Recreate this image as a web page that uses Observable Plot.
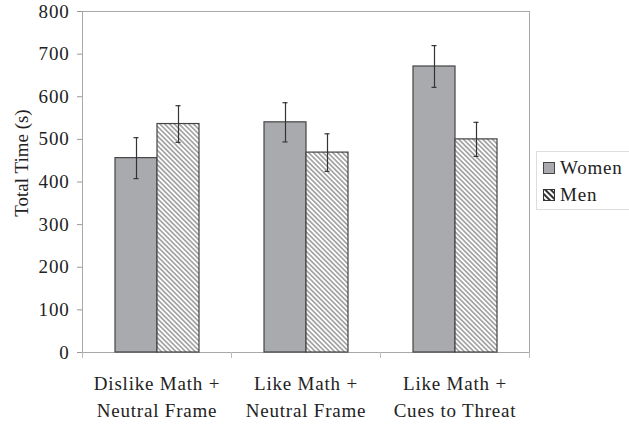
<!DOCTYPE html>
<html>
<head>
<meta charset="utf-8">
<script src="https://cdn.jsdelivr.net/npm/d3@7"></script>
<script src="https://cdn.jsdelivr.net/npm/@observablehq/plot@0.6"></script>
<style>
  html, body { margin: 0; padding: 0; background: #fff; }
  #chart { position: relative; width: 629px; height: 425px; font-family: "Liberation Serif", "Times New Roman", serif; }
  #chart svg text { letter-spacing: 0.8px; }
  #chart svg text.ylabel { letter-spacing: 0; }
  #legend { position: absolute; left: 536px; top: 151px; width: 100px; height: 59px; border: 1px solid #ddd; border-right: none; box-sizing: border-box; font-size: 19px; letter-spacing: 0.8px; color: #222; }
  #legend .row { position: absolute; left: 6px; display: flex; align-items: center; line-height: 22px; }
  #legend .row svg { margin-right: 5px; }
</style>
</head>
<body>
<div id="chart"></div>
<script>
// Conditions along the x axis
const categories = ["Dislike Math +\nNeutral Frame", "Like Math +\nNeutral Frame", "Like Math +\nCues to Threat"];
const groups = ["Women", "Men"];
// Mean total time (s) and standard error per condition
const womenMeans = [456, 540, 671];
const menMeans = [536, 469, 500];
const womenErr = [48, 46, 49];
const menErr = [43, 44, 40];
const yTicks = [0, 100, 200, 300, 400, 500, 600, 700, 800];

const rows = [];
categories.forEach((c, i) => {
  rows.push({cond: c, sex: "Women", mean: womenMeans[i], err: womenErr[i]});
  rows.push({cond: c, sex: "Men", mean: menMeans[i], err: menErr[i]});
});

const fillFor = d => d.sex === "Women" ? "#a9aaae" : "url(#hatch)";

const plot = Plot.plot({
  width: 629,
  height: 425,
  marginLeft: 81,
  marginRight: 100,
  marginTop: 11,
  marginBottom: 73,
  style: {fontFamily: "Liberation Serif, Times New Roman, serif", fontSize: "19px", color: "#222", background: "#fff"},
  fx: {domain: categories, padding: 0, axis: null},
  x: {domain: groups, paddingInner: 0, paddingOuter: 0.736, axis: null},
  y: {domain: [0, 800], ticks: yTicks},
  color: {type: "identity"},
  marks: [
    // outer border of the plotting area, drawn once
    Plot.frame({stroke: "#a8a8a8", facet: "super"}),
    // short tick marks below the baseline at the category boundaries
    Plot.frame({anchor: "left", stroke: "#bbb", insetTop: 341, insetBottom: -5}),
    Plot.frame({anchor: "right", stroke: "#bbb", insetTop: 341, insetBottom: -5}),
    Plot.axisY({ticks: yTicks, tickSize: 5, tickPadding: 8, label: null, stroke: "#999", fill: "#222", fontSize: 19}),
    Plot.barY(rows, {fx: "cond", x: "sex", y: "mean", fill: fillFor, stroke: "#444", strokeWidth: 1.2}),
    Plot.ruleX(rows, {fx: "cond", x: "sex", y1: d => d.mean - d.err, y2: d => d.mean + d.err, stroke: "#333", strokeWidth: 1.2}),
    Plot.tickY(rows, {fx: "cond", x: "sex", y: d => d.mean + d.err, stroke: "#333", strokeWidth: 1.2, insetLeft: 18.5, insetRight: 18.5}),
    Plot.tickY(rows, {fx: "cond", x: "sex", y: d => d.mean - d.err, stroke: "#333", strokeWidth: 1.2, insetLeft: 18.5, insetRight: 18.5}),
    Plot.text(categories, {fx: d => d, text: d => d, frameAnchor: "bottom", lineAnchor: "top", dy: 18, lineHeight: 1.42, fontSize: 19, fill: "#222"}),
    Plot.text(["Total Time (s)"], {fx: () => categories[0], frameAnchor: "left", textAnchor: "middle", rotate: -90, dx: -61, dy: -19, fontSize: 19, fill: "#222", className: "ylabel"})
  ]
});

// diagonal hatch used by the "Men" bars
const defs = d3.select(plot).insert("defs", ":first-child");
const pat = defs.append("pattern")
  .attr("id", "hatch")
  .attr("patternUnits", "userSpaceOnUse")
  .attr("width", 3.4).attr("height", 3.4)
  .attr("patternTransform", "rotate(-45)");
pat.append("rect").attr("width", 3.4).attr("height", 3.4).attr("fill", "#fff");
pat.append("rect").attr("width", 1.7).attr("height", 3.4).attr("fill", "#a4a4a4");

// the y title keeps its natural spacing
d3.select(plot).selectAll("g.ylabel text").classed("ylabel", true);

const chart = document.getElementById("chart");
chart.appendChild(plot);

// legend to the right of the plot
const legend = document.createElement("div");
legend.id = "legend";
legend.innerHTML = `
  <div class="row" style="top:5px">
    <svg width="12" height="12"><rect x="0.5" y="0.5" width="11" height="11" fill="#a9aaae" stroke="#444"/></svg>Women
  </div>
  <div class="row" style="top:32px">
    <svg width="12" height="12">
      <defs><pattern id="hatchKey" patternUnits="userSpaceOnUse" width="4" height="4" patternTransform="rotate(-45)">
        <rect width="4" height="4" fill="#fff"/><rect width="2" height="4" fill="#333"/></pattern></defs>
      <rect x="0.5" y="0.5" width="11" height="11" fill="url(#hatchKey)" stroke="#333"/></svg>Men
  </div>`;
chart.appendChild(legend);
</script>
</body>
</html>
